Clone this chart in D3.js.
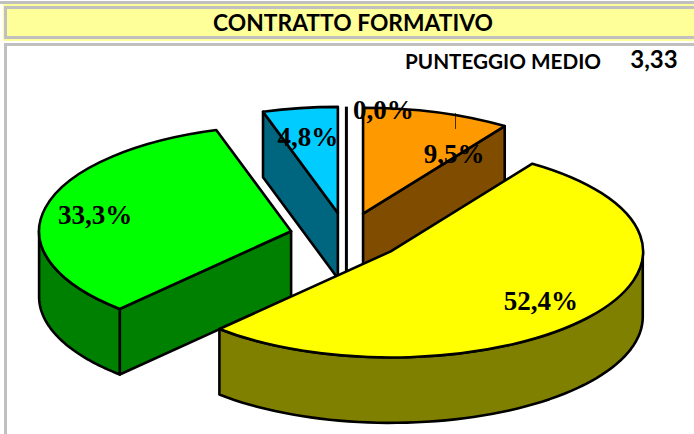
<!DOCTYPE html>
<html>
<head>
<meta charset="utf-8">
<script src="https://cdn.jsdelivr.net/npm/d3@7"></script>
<style>
  html, body { margin: 0; padding: 0; background: #fff; }
  svg { display: block; }
</style>
</head>
<body>
<div id="chart"></div>
<script>
// chart values
const values = [9.5, 52.4, 33.3, 4.8, 0.0];
const labels = ["9,5%", "52,4%", "33,3%", "4,8%", "0,0%"];
const topColors = ["#ff9900", "#ffff00", "#00ff00", "#00ccff", "#ffffff"];
const sideColors = ["#804d00", "#808000", "#008000", "#006680", "#808080"];
const chartTitle = "CONTRATTO FORMATIVO";
const scoreLabel = "PUNTEGGIO MEDIO";
const scoreValue = "3,33";

const width = 694, height = 434;
const cx = 346.4, cy = 236.5, rx = 252, ry = 106, depth = 65.5, explode = 0.225;
const strokeWidth = 2.6;

const svg = d3
  .select("#chart")
  .append("svg")
  .attr("width", width)
  .attr("height", height);

// Frame and title band
const gray = "#c0c0c0";
svg.append("rect").attr("x", 0).attr("y", 1).attr("width", width).attr("height", 3).attr("fill", gray);
svg.append("rect").attr("x", 3).attr("y", 4).attr("width", width - 3).attr("height", 37).attr("fill", "#ffff99");
svg.append("rect").attr("x", 4).attr("y", 6).attr("width", width - 4).attr("height", 3).attr("fill", gray);
svg.append("rect").attr("x", 4).attr("y", 6).attr("width", 3).attr("height", 33).attr("fill", gray);
svg.append("rect").attr("x", 4).attr("y", 36).attr("width", width - 4).attr("height", 3).attr("fill", gray);
svg.append("rect").attr("x", 4).attr("y", 43).attr("width", width - 4).attr("height", 3).attr("fill", gray);
svg.append("rect").attr("x", 4).attr("y", 43).attr("width", 3).attr("height", height - 43).attr("fill", gray);

svg
  .append("text")
  .attr("x", 353)
  .attr("y", 31)
  .attr("text-anchor", "middle")
  .style("font-family", "Lato")
  .style("font-weight", "bold")
  .style("font-size", "22.8px")
  .text(chartTitle);

svg
  .append("text")
  .attr("x", 503)
  .attr("y", 69)
  .attr("text-anchor", "middle")
  .style("font-family", "Lato")
  .style("font-weight", "bold")
  .style("font-size", "20.7px")
  .text(scoreLabel);

svg
  .append("text")
  .attr("x", 654)
  .attr("y", 68)
  .attr("text-anchor", "middle")
  .style("font-family", "Lato")
  .style("font-weight", "bold")
  .style("font-size", "24px")
  .text(scoreValue);

// Pie angles
const pie = d3.pie().sort(null).value((d) => d);
const arcs = pie(values);
const unitArc = d3.arc().innerRadius(0).outerRadius(1);

const centerOf = (d) => {
  const mid = (d.startAngle + d.endAngle) / 2;
  return [cx + explode * rx * Math.sin(mid), cy - explode * ry * Math.cos(mid)];
};

const rimPoint = (d, a, dy = 0) => {
  const [x, y] = centerOf(d);
  return [x + rx * Math.sin(a), y - ry * Math.cos(a) + dy];
};

// Outer wall of a slice, only the part on the front of the ellipse
const wallPath = (d) => {
  const from = Math.max(d.startAngle, Math.PI / 2);
  const to = Math.min(d.endAngle, (3 * Math.PI) / 2);
  if (from >= to) return null;
  const steps = d3.range(0, 61).map((i) => from + ((to - from) * i) / 60);
  const upper = steps.map((a) => rimPoint(d, a));
  const lower = steps.slice().reverse().map((a) => rimPoint(d, a, depth));
  return d3.line()(upper.concat(lower)) + "Z";
};

// Flat cut face along a radius
const facePath = (d, a) => {
  const [x, y] = centerOf(d);
  const p = rimPoint(d, a);
  return d3.line()([[x, y], p, [p[0], p[1] + depth], [x, y + depth]]) + "Z";
};

// Back to front: blue, zero slice, orange, green, yellow
const drawOrder = [3, 4, 0, 2, 1];
// Which cut face can be seen on each slice
const visibleFace = { 0: "endAngle", 2: "startAngle", 3: "startAngle" };

drawOrder.forEach((i) => {
  const d = arcs[i];
  const [x, y] = centerOf(d);
  const slice = svg.append("g").attr("class", "slice");

  if (values[i] === 0) {
    slice
      .append("line")
      .attr("x1", x)
      .attr("x2", x)
      .attr("y1", y - ry)
      .attr("y2", y + depth)
      .attr("stroke", "#000")
      .attr("stroke-width", 3);
    return;
  }

  if (visibleFace[i]) {
    slice
      .append("path")
      .attr("d", facePath(d, d[visibleFace[i]]))
      .attr("fill", sideColors[i])
      .attr("stroke", "#000")
      .attr("stroke-width", strokeWidth)
      .attr("stroke-linejoin", "round");
  }

  const wall = wallPath(d);
  if (wall) {
    slice
      .append("path")
      .attr("d", wall)
      .attr("fill", sideColors[i])
      .attr("stroke", "#000")
      .attr("stroke-width", strokeWidth)
      .attr("stroke-linejoin", "round");
  }

  slice
    .append("path")
    .attr("d", unitArc(d))
    .attr("transform", `translate(${x},${y}) scale(${rx},${ry})`)
    .attr("fill", topColors[i])
    .attr("stroke", "#000")
    .attr("stroke-width", strokeWidth)
    .attr("stroke-linejoin", "round")
    .attr("vector-effect", "non-scaling-stroke");
});

// Leader line of the orange label
svg
  .append("line")
  .attr("x1", 455.5)
  .attr("x2", 455.5)
  .attr("y1", 113)
  .attr("y2", 129)
  .attr("stroke", "#000")
  .attr("stroke-width", 1)
  .attr("opacity", 0.7);

// Data labels, offset from each slice center
const labelPos = [
  [91, -51],
  [150, 59],
  [-196, -7],
  [-30, -67],
  [37, -94],
];

labels.forEach((t, i) => {
  const [x, y] = centerOf(arcs[i]);
  svg
    .append("text")
    .attr("x", x + labelPos[i][0])
    .attr("y", y + labelPos[i][1])
    .attr("text-anchor", "middle")
    .style("font-family", "Liberation Serif")
    .style("font-weight", "bold")
    .style("font-size", "27px")
    .text(t);
});
</script>
</body>
</html>
